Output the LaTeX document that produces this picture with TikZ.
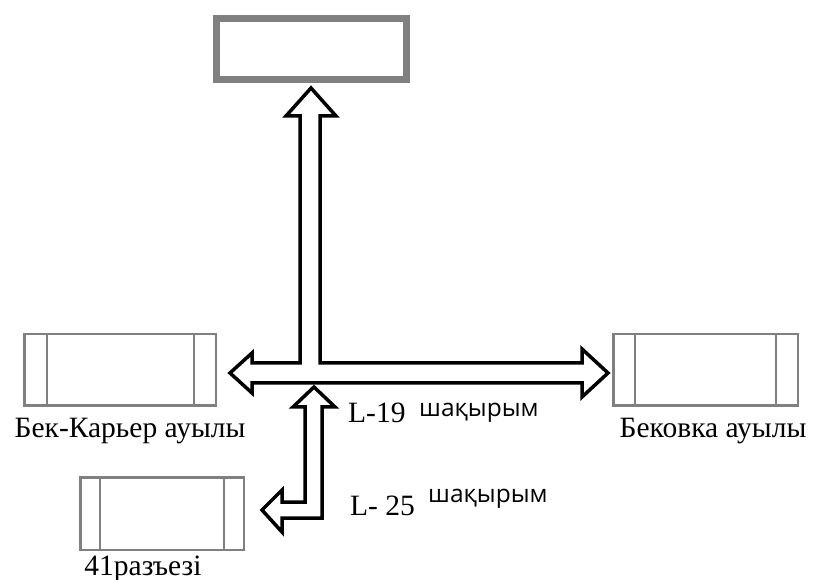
\documentclass[tikz,border=0pt]{standalone}
\usepackage{fontspec}
\setmainfont{Liberation Serif}
\newfontfamily\kzsans{Open Sans}
\definecolor{boxgray}{RGB}{128,128,128}
\tikzset{
  village/.style={rectangle, draw=boxgray, line width=2.5pt, inner sep=0pt},
  lbl/.style={inner sep=0pt, font=\fontsize{29.5}{32}\selectfont},
  unit/.style={inner sep=0pt, font=\kzsans\fontsize{24.5}{27}\selectfont},
  road/.style={draw=black, fill=white, line width=3.5pt, line join=miter},
}
\begin{document}
\begin{tikzpicture}[x=1pt, y=-1pt]
\useasboundingbox (0,0) rectangle (815,580);
\node[rectangle, draw=boxgray, line width=7pt, minimum width=190pt, minimum height=61pt, inner sep=0pt] (box0) at (311.5,49){};
\node[village, minimum width=191.5pt, minimum height=71.5pt] (box1) at (120,370){};
\node[village, minimum width=184.5pt, minimum height=71.5pt] (box2) at (705.5,370){};
\node[village, minimum width=163.5pt, minimum height=72.5pt] (box3) at (162,513.5){};
\draw[boxgray, line width=2.5pt]([xshift=24pt]box1.north west) -- ([xshift=24pt]box1.south west);
\draw[boxgray, line width=2.5pt]([xshift=-23pt]box1.north east) -- ([xshift=-23pt]box1.south east);
\draw[boxgray, line width=2.5pt]([xshift=23pt]box2.north west) -- ([xshift=23pt]box2.south west);
\draw[boxgray, line width=2.5pt]([xshift=-23pt]box2.north east) -- ([xshift=-23pt]box2.south east);
\draw[boxgray, line width=2.5pt]([xshift=21pt]box3.north west) -- ([xshift=21pt]box3.south west);
\draw[boxgray, line width=2.5pt]([xshift=-21pt]box3.north east) -- ([xshift=-21pt]box3.south east);
\draw[road] (311,88) -- (336,116) -- (320,116) -- (320,363) -- (582,363) -- (582,349) -- (608,373)
  -- (582,397) -- (582,383) -- (252,383) -- (252,393) -- (230,373) -- (252,353) -- (252,363)
  -- (300,363) -- (300,116) -- (286,116) -- cycle;
\draw[road] (314,387) -- (335,407) -- (322,407) -- (322,518) -- (282,518) -- (282,532) -- (262,510)
  -- (282,490) -- (282,502) -- (305,502) -- (305,407) -- (293,407) -- cycle;
\node[lbl, anchor=base] (lab1) at (130,438){Бек-Карьер ауылы};
\node[lbl, anchor=base] (lab2) at (713,437){Бековка ауылы};
\node[lbl, anchor=base] (lab3) at (143,575){41разъезі};
\node[lbl, anchor=base west] (len1) at (348,423){L-19};
\node[unit, anchor=base west] (unit1) at (419,417){шақырым};
\node[lbl, anchor=base west] (len2) at (350,515){L- 25};
\node[unit, anchor=base west] (unit2) at (428,502){шақырым};
\end{tikzpicture}
\end{document}
